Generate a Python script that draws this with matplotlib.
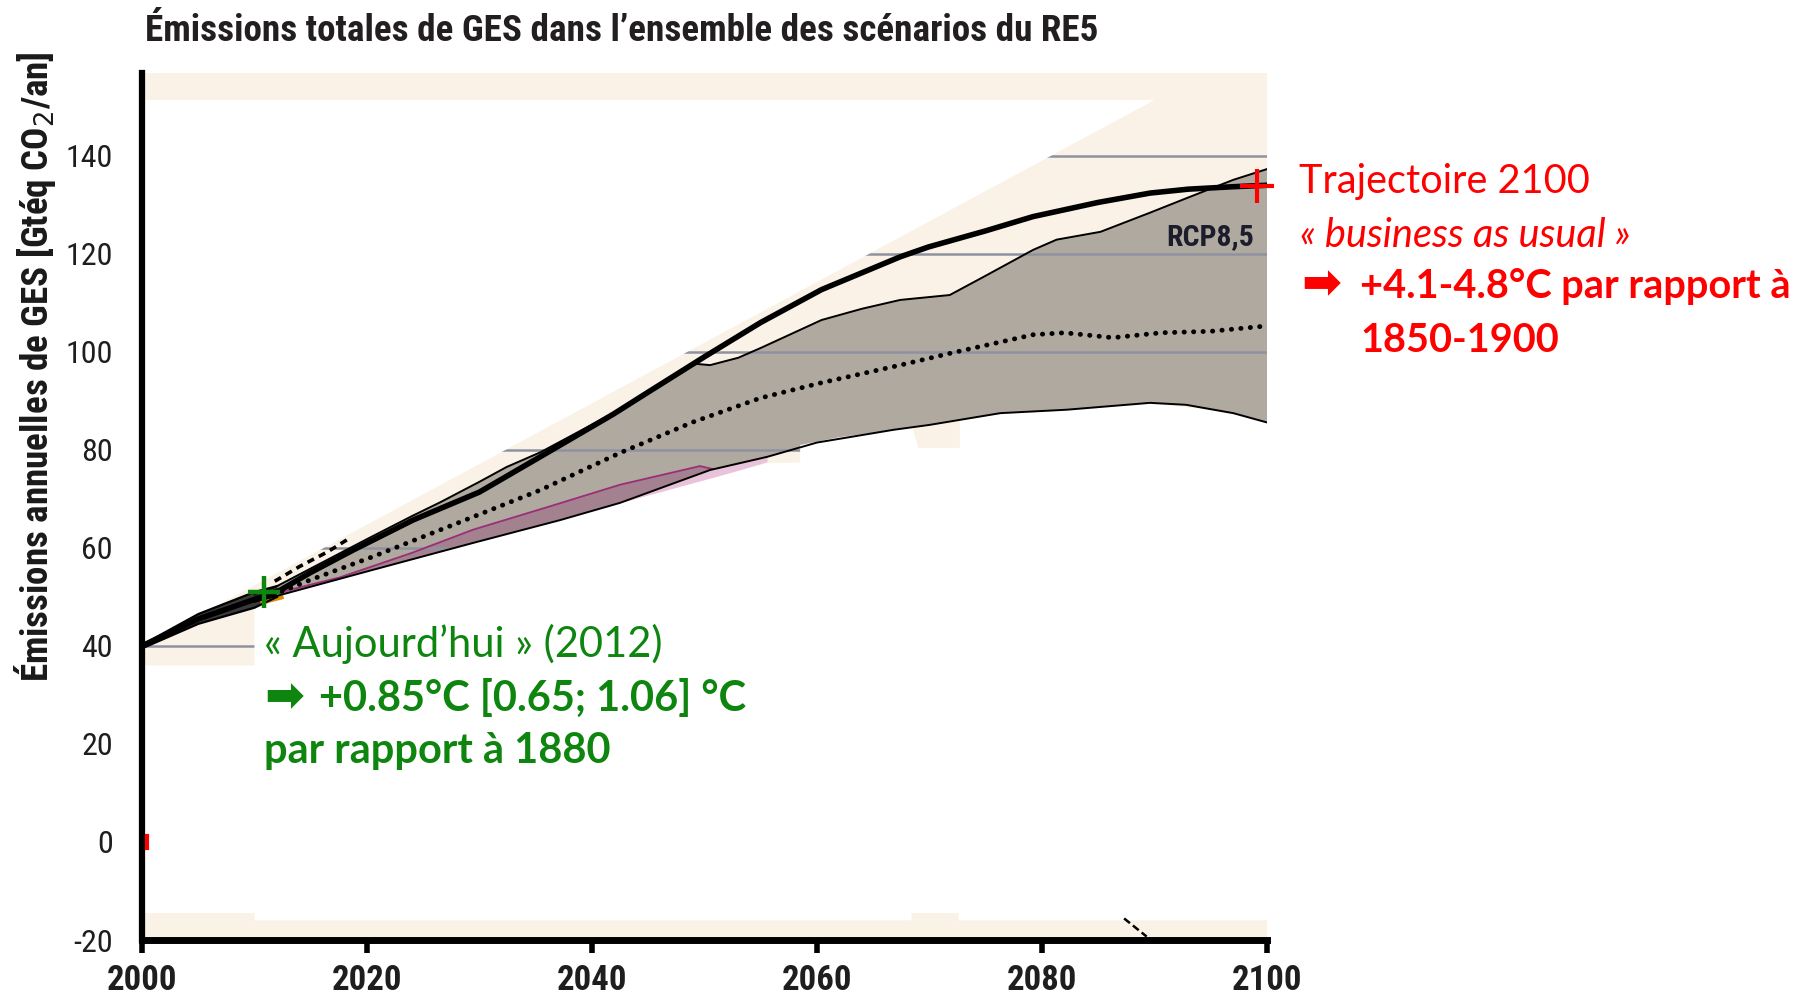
import matplotlib
matplotlib.use("Agg")
import matplotlib.pyplot as plt
from matplotlib import font_manager
from matplotlib.font_manager import FontProperties
import numpy as np

# ---------- valeurs (Gt éq CO2 / an) ----------
x_ticks = [2000, 2020, 2040, 2060, 2080, 2100]
y_ticks = [-20, 0, 20, 40, 60, 80, 100, 120, 140]
grid_levels = [40, 60, 80, 100, 120, 140]

# faisceau historique 2000-2012
hist_years = [2000, 2005, 2010, 2012]
hist_top = [40.2, 46.5, 51.0, 52.2]
hist_mid = [39.8, 45.5, 49.5, 51.0]
hist_bot = [39.5, 44.5, 47.8, 50.0]

# trait noir épais
thick_years = [2000, 2005, 2010, 2012.3, 2015, 2018.8, 2024.1, 2030, 2035.4, 2041.9,
               2045, 2050, 2055, 2060.4, 2067.4, 2069.9, 2075, 2079.2, 2085, 2089.6,
               2093, 2097, 2100]
thick_vals = [40, 45.5, 49.5, 51.4, 55, 59.6, 65.7, 71.4, 78.6, 87.3,
              91.8, 99, 106, 112.7, 119.4, 121.4, 124.7, 127.6, 130.5, 132.4,
              133.2, 133.7, 134]

# bord haut de la bande RCP8,5
up_years = [2010, 2012, 2015, 2020, 2024, 2026.5, 2030, 2032.4, 2035.4, 2041.9, 2045,
            2049, 2050.5, 2053, 2055, 2060.4, 2064, 2067.4, 2071.8, 2074.8, 2079.2,
            2081.3, 2085.2, 2089.6, 2093, 2097, 2100]
up_vals = [50.5, 52.2, 55.8, 61.8, 66.5, 69.3, 73.5, 76.5, 79.5, 87.5, 92.0,
           97.6, 97.3, 98.8, 100.8, 106.5, 108.8, 110.6, 111.6, 115.3, 120.8,
           122.9, 124.5, 128.4, 131.5, 135.1, 137.3]

# bord bas de la bande RCP8,5
lo_years = [2010, 2012.3, 2020, 2029.4, 2037.2, 2042.5, 2050.5, 2055.6, 2060, 2066.8,
            2070, 2076.3, 2082.2, 2089.6, 2092.8, 2097, 2100]
lo_vals = [49.0, 50.4, 55.2, 61.0, 65.7, 69.2, 75.9, 78.6, 81.5, 84.1,
           85.1, 87.5, 88.2, 89.6, 89.2, 87.5, 85.6]

# médiane (pointillés)
med_years = [2010, 2012.3, 2015, 2020.5, 2025, 2029.4, 2035.4, 2042.5, 2049, 2055,
             2060.4, 2067.4, 2072, 2079.2, 2082, 2086.3, 2090.6, 2095, 2100]
med_vals = [49.5, 51.0, 53.5, 58.2, 62.3, 66.3, 71.8, 79.4, 85.7, 90.6,
            93.7, 97.3, 99.8, 103.5, 103.9, 102.9, 103.9, 104.2, 105.3]

# tireté 2012-2018
dash_years = [2011.8, 2014, 2016.5, 2018.6]
dash_vals = [53.2, 56.2, 59.2, 62.2]

# zone mauve
pink_years = [2012, 2017.6, 2024, 2029.4, 2036, 2042.5, 2049.6, 2050.7]
pink_vals = [50.8, 54.0, 59.0, 63.7, 68.3, 72.9, 76.7, 76.1]
# liseré rose clair sous la bande
pinkl_years = [2042.5, 2050.5, 2055.6, 2055.6, 2042.5]
pinkl_vals = [69.2, 75.9, 78.6, 77.5, 68.5]

# enveloppe beige (haut) et zone effacée (blanc)
diag_years = [2000, 2090]
diag_vals = [40, 151.4]
env_top = 151.4
erase_top_years = [2000, 2010, 2010, 2055.6, 2058.5, 2058.5, 2062, 2066, 2068.5, 2069,
                   2072.7, 2072.7, 2076.3, 2082.2, 2089.6, 2094, 2097, 2100]
erase_top_vals = [36, 36, 48.8, 77.3, 77.4, 81.0, 82.6, 83.8, 84.5, 80.4,
                  80.4, 86.0, 87.3, 88.0, 89.4, 88.4, 87.3, 85.5]
erase_bot_years = [2000, 2010, 2010, 2068.4, 2068.4, 2072.6, 2072.6, 2100]
erase_bot_vals = [-14.5, -14.5, -16, -16, -14.5, -14.5, -16, -16]
frag_years = [2087.3, 2089.3]
frag_vals = [-15.6, -19.3]

today = (2010.85, 51.1)
bau_2100 = (2099.1, 133.9)

# ---------- style ----------
W, H = 1814, 1000
beige = "#faf2e6"
band_col = "#b0a99f"
grid_col = "#8e92a0"
green = "#0e850e"
red = "#ff0000"


def condensed(bold):
    # cherche une police étroite installée, sinon Roboto
    prefs = ["Roboto Condensed", "Liberation Sans Narrow", "Noto Sans", "Open Sans",
             "Lato", "Inter", "DejaVu Sans"]
    found = []
    for f in font_manager.fontManager.ttflist:
        if f.style != "normal":
            continue
        if f.stretch not in ("condensed", "semi-condensed", "extra-condensed"):
            continue
        w = f.weight if isinstance(f.weight, int) else font_manager.weight_dict.get(f.weight, 400)
        if bold and not 600 <= w <= 750:
            continue
        if not bold and not 400 <= w <= 500:
            continue
        rank = prefs.index(f.name) if f.name in prefs else len(prefs)
        found.append((rank, abs(w - (700 if bold else 400)), f.stretch != "condensed", f.fname))
    if found:
        return FontProperties(fname=sorted(found)[0][3])
    return FontProperties(family="Roboto", weight="bold" if bold else "normal")


nb = condensed(True)
nr = condensed(False)
calib = ["Lato", "DejaVu Sans"]

fig = plt.figure(figsize=(W / 100, H / 100), dpi=100)
ax = fig.add_axes([142 / W, 0.06, (1267 - 142) / W, 0.8665])
ax.set_facecolor(beige)
ax.set_xlim(2000, 2100)
ax.set_ylim(-20, 156.8)

# bande RCP8,5
ax.fill(np.r_[up_years, lo_years[::-1]], np.r_[up_vals, lo_vals[::-1]],
        color=band_col, lw=0, zorder=1)
ax.fill(pinkl_years, pinkl_vals, color="#e9c3da", lw=0, zorder=1)
ax.fill(np.r_[pink_years, lo_years[6::-1][:6]], np.r_[pink_vals, lo_vals[6::-1][:6]],
        color="#a3818f", lw=0, zorder=1.1)

ax.hlines(grid_levels, 2000, 2100, color=grid_col, lw=1.8, zorder=1.5)

# zones blanches (hors enveloppe)
ax.fill([diag_years[0], diag_years[1], diag_years[0]],
        [diag_vals[0], diag_vals[1], env_top], color="white", lw=0, zorder=1.8)
ax.fill(np.r_[erase_top_years, erase_bot_years[::-1]],
        np.r_[erase_top_vals, erase_bot_vals[::-1]], color="white", lw=0, zorder=1.8)

ax.plot(pink_years, pink_vals, color="#9a2f78", lw=1.3, zorder=2.3)

# faisceau historique
ax.fill(np.r_[hist_years, hist_years[::-1]], np.r_[hist_top, hist_bot[::-1]],
        color="#3a3a3a", lw=0, zorder=3)
for vals in (hist_top, hist_mid, hist_bot):
    ax.plot(hist_years, vals, color="black", lw=1.6, zorder=3.1)
ax.plot([2010.7, 2012.4], [48.9, 49.9], color="#e08a00", lw=3, zorder=3.05)

ax.plot(up_years, up_vals, color="black", lw=1.4, zorder=3.5)
ax.plot(lo_years, lo_vals, color="black", lw=1.4, zorder=3.5)
ax.plot(med_years, med_vals, color="black", lw=3.5, linestyle=(0, (0.05, 1.9)),
        dash_capstyle="round", zorder=3.6)
ax.plot(thick_years, thick_vals, color="black", lw=4.0, solid_capstyle="round",
        solid_joinstyle="round", zorder=4)
ax.plot(dash_years, dash_vals, color="black", lw=2.6, linestyle=(0, (2.0, 1.5)), zorder=4)
ax.plot(frag_years, frag_vals, color="black", lw=1.8, linestyle=(0, (3, 1.5)), zorder=4)
ax.plot([2000.45, 2000.45], [-1.3, 1.3], color="red", lw=3, zorder=11, clip_on=False)

ax.plot(*today, marker="+", ms=23, mew=3.2, color=green, zorder=8)
ax.plot(*bau_2100, marker="+", ms=25, mew=3.0, color=red, zorder=8, clip_on=False)

# axes
for s in ("top", "right"):
    ax.spines[s].set_visible(False)
ax.spines["left"].set_linewidth(4.5)
ax.spines["bottom"].set_linewidth(5)
ax.spines["left"].set_zorder(10)
ax.spines["bottom"].set_zorder(10)
ax.set_xticks(x_ticks)
ax.set_xticklabels([str(v) for v in x_ticks], fontproperties=nb, color="#1e1e1e")
ax.set_yticks(y_ticks)
ax.set_yticklabels([str(v) for v in y_ticks], fontproperties=nr, color="#1e1e1e")
for lab in ax.get_xticklabels():
    lab.set_fontsize(25)
for lab in ax.get_yticklabels():
    lab.set_fontsize(23)
ax.tick_params(axis="x", direction="out", length=9, width=4, pad=8)
ax.tick_params(axis="y", direction="in", length=5, width=1, color="#aaaaaa", pad=21)

rend = fig.canvas.get_renderer()


def fit(t, px, vertical=False):
    bb = t.get_window_extent(renderer=rend)
    cur = bb.height if vertical else bb.width
    t.set_fontsize(t.get_fontsize() * px / cur)
    return t.get_fontsize()


t = fig.text(145 / W, 1 - 41 / H,
             "Émissions totales de GES dans l’ensemble des scénarios du RE5",
             ha="left", va="baseline", fontproperties=nb, color="#231f20")
t.set_fontsize(26)
fit(t, 954)

t = fig.text(35 / W, 1 - 367 / H, "Émissions annuelles de GES [Gtéq CO$_2$/an]",
             rotation=90, ha="center", va="center", fontproperties=nb, color="#1a1a1a")
t.set_fontsize(24)
fit(t, 631, vertical=True)

t = ax.text(2098.8, 123.4, "RCP8,5", ha="right", va="center", fontproperties=nb,
            color="#1c1c2c", zorder=9)
t.set_fontsize(20)
fit(t, 88)

# annotations vertes
g1 = fig.text(264 / W, 1 - 657 / H, "« Aujourd’hui » (2012)", ha="left",
              va="baseline", family=calib, fontsize=26, color=green)
gs = fit(g1, 399)
a = fig.text(264 / W, 1 - 711 / H, "➡", ha="left", va="baseline", family="DejaVu Sans",
             fontweight="bold", fontsize=gs, color=green)
fit(a, 40)
fig.text(319 / W, 1 - 711 / H, "+0.85°C [0.65; 1.06] °C", ha="left", va="baseline",
         family=calib, fontweight="bold", fontsize=gs, color=green)
fig.text(264 / W, 1 - 763 / H, "par rapport à 1880", ha="left", va="baseline",
         family=calib, fontweight="bold", fontsize=gs, color=green)

# annotations rouges
r1 = fig.text(1299 / W, 1 - 193 / H, "Trajectoire 2100", ha="left", va="baseline",
              family=calib, fontsize=26, color=red)
rs = fit(r1, 291)
fig.text(1300 / W, 1 - 247 / H, "« business as usual »", ha="left", va="baseline",
         family=calib, style="italic", fontsize=rs, color=red)
a = fig.text(1301 / W, 1 - 298 / H, "➡", ha="left", va="baseline", family="DejaVu Sans",
             fontweight="bold", fontsize=rs, color=red)
fit(a, 40)
fig.text(1360 / W, 1 - 298 / H, "+4.1-4.8°C par rapport à", ha="left",
         va="baseline", family=calib, fontweight="bold", fontsize=rs, color=red)
fig.text(1360 / W, 1 - 352 / H, "1850-1900", ha="left", va="baseline",
         family=calib, fontweight="bold", fontsize=rs, color=red)

fig.savefig("out.png", dpi=100, facecolor="white")
